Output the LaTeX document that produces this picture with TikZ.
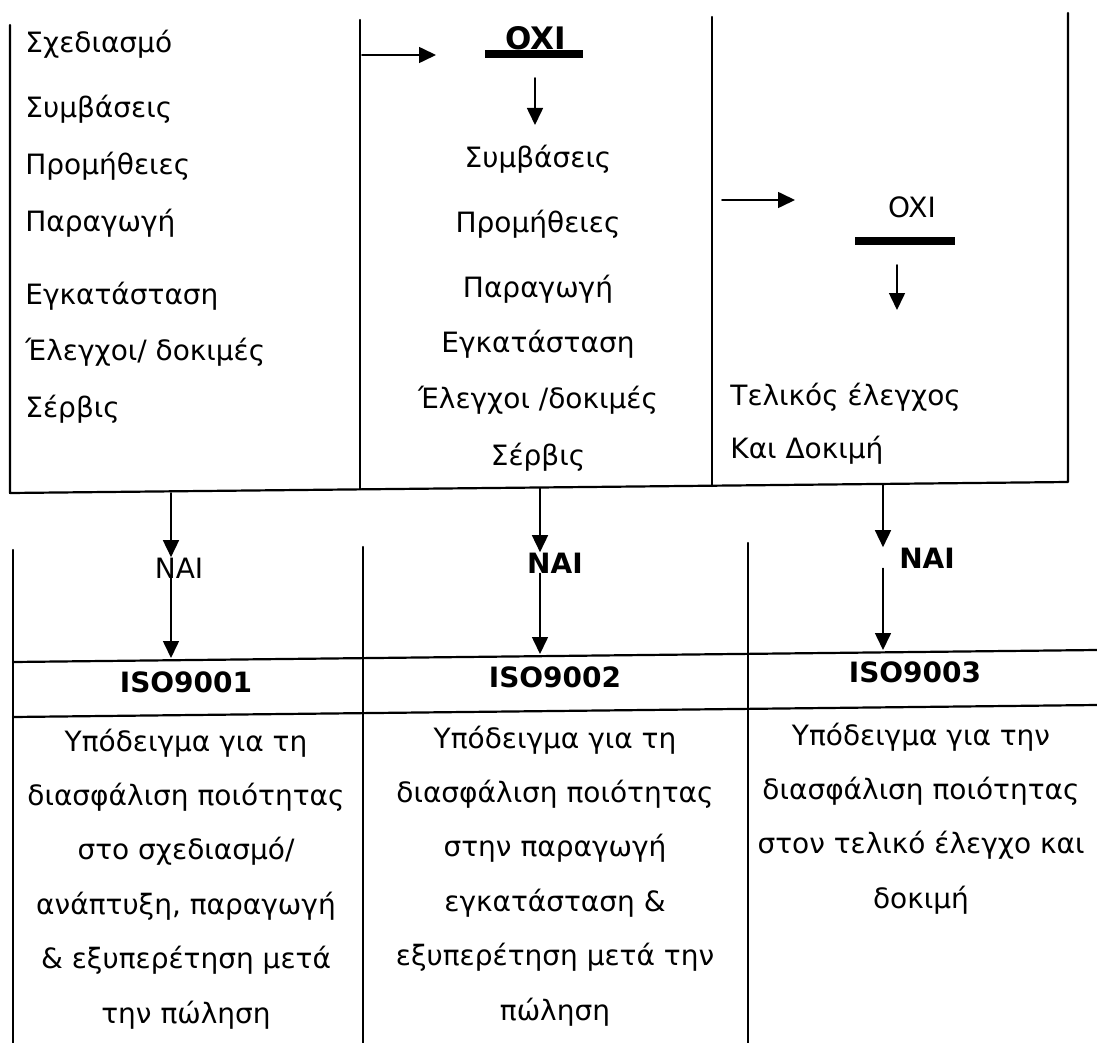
\documentclass[tikz,border=0pt]{standalone}
\usepackage{fontspec}
\setmainfont{DejaVu Sans}
\usetikzlibrary{arrows.meta}

\begin{document}
\begin{tikzpicture}[
  x=0.5pt,y=-0.5pt,
  line cap=round,line join=round,
  >={Triangle[length=8.5pt,width=8pt]}
]
  \tikzset{
    rule/.style={line width=1.1pt, draw=black},
    flow/.style={line width=0.8pt,->},
    bar/.style={line width=4pt, line cap=butt},
    txt/.style={inner sep=0pt, anchor=base, font=\fontsize{14}{17}\selectfont},
    lefttxt/.style={txt, anchor=base west},
    boldtxt/.style={txt, font=\fontsize{14}{17}\selectfont\bfseries}
  }
  \useasboundingbox (0,0) rectangle (1097,1043);

  % Upper frame
  \draw[rule] (10,25) -- (10,493) -- (1068,482) -- (1068,13);
  \draw[rule] (360,20) -- (360,489);
  \draw[rule] (712,17) -- (712,486);

  % Lower grid
  \draw[rule] (13,550) -- (13,1043);
  \draw[rule] (363,547) -- (363,1043);
  \draw[rule] (748,543) -- (748,1043);
  \draw[rule] (13,662) -- (1097,650);
  \draw[rule] (13,717) -- (1097,705);

  % First column: all stages
  \foreach \t/\y [count=\i] in {Σχεδιασμό/53, Συμβάσεις/118, Προμήθειες/175,
      Παραγωγή/232, Εγκατάσταση/305, {Έλεγχοι/ δοκιμές}/360, Σέρβις/417}
    \node[lefttxt] (stageA\i) at (25,\y) {\t};

  % Second column: no design
  \coordinate (noAs) at (362,55);
  \coordinate (noAe) at (436,55);
  \draw[flow] (noAs) -- (noAe);
  \node[boldtxt, font=\fontsize{15.5}{18}\selectfont\bfseries] (oxiA) at (536,50) {OXI};
  \draw[bar] (485,54) -- (583,54);
  \coordinate (downAs) at (535,78);
  \coordinate (downAe) at (535,125);
  \draw[flow] (downAs) -- (downAe);
  \foreach \t/\y [count=\i] in {Συμβάσεις/168, Προμήθειες/233, Παραγωγή/297,
      Εγκατάσταση/352, {Έλεγχοι /δοκιμές}/408, Σέρβις/465}
    \node[txt] (stageB\i) at (538,\y) {\t};

  % Third column: final inspection only
  \coordinate (noBs) at (722,200);
  \coordinate (noBe) at (795,200);
  \draw[flow] (noBs) -- (noBe);
  \node[txt] (oxiB) at (912,218) {OXI};
  \draw[bar] (855,241) -- (955,241);
  \coordinate (downBs) at (897,265);
  \coordinate (downBe) at (897,310);
  \draw[flow] (downBs) -- (downBe);
  \node[lefttxt] (stageC1) at (730,405) {Τελικός έλεγχος};
  \node[lefttxt] (stageC2) at (730,458) {Και Δοκιμή};

  % Yes branches
  \node[txt]     (nai1) at (179,578) {NAI};
  \node[boldtxt] (nai2) at (555,573) {NAI};
  \node[boldtxt] (nai3) at (927,568) {NAI};
  \coordinate (u1) at (171,493);
  \coordinate (u2) at (540,488);
  \coordinate (u3) at (883,484);
  \coordinate (r1) at (171,658);
  \coordinate (r2) at (540,654);
  \coordinate (r3) at (883,650);
  \foreach \k in {1,2,3} {
    \draw[flow] (u\k) -- (u\k |- nai\k.north);
    \draw[flow] (nai\k.south -| u\k) -- (r\k);
  }

  % Standards
  \node[boldtxt] (iso1) at (186,692) {ISO9001};
  \node[boldtxt] (iso2) at (555,687) {ISO9002};
  \node[boldtxt] (iso3) at (915,682) {ISO9003};

  \foreach \t [count=\i] in {Υπόδειγμα για τη, διασφάλιση ποιότητας, στο σχεδιασμό/,
      {ανάπτυξη, παραγωγή}, \& εξυπερέτηση μετά, την πώληση}
    \node[txt] (descA\i) at (186,{751+54.4*(\i-1)}) {\t};
  \foreach \t [count=\i] in {Υπόδειγμα για τη, διασφάλιση ποιότητας, στην παραγωγή,
      εγκατάσταση \&, εξυπερέτηση μετά την, πώληση}
    \node[txt] (descB\i) at (555,{748+54.4*(\i-1)}) {\t};
  \foreach \t [count=\i] in {Υπόδειγμα για την, διασφάλιση ποιότητας,
      στον τελικό έλεγχο και, δοκιμή}
    \node[txt] (descC\i) at (921,{745+54.4*(\i-1)}) {\t};
\end{tikzpicture}
\end{document}
